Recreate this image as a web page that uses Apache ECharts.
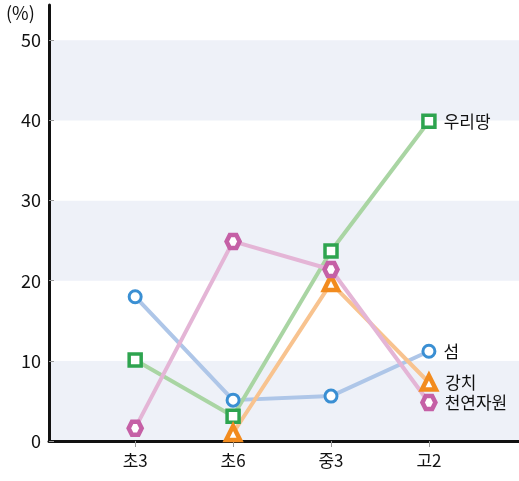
<!DOCTYPE html>
<html>
<head>
<meta charset="utf-8">
<script src="https://cdn.jsdelivr.net/npm/echarts@6/dist/echarts.min.js"></script>
<style>
  html, body { margin: 0; padding: 0; background: #fff; }
  #chart { width: 519px; height: 481px; }
</style>
</head>
<body>
<div id="chart"></div>
<script>
// 학년별 응답 비율 (%)
const grades = ["초3", "초6", "중3", "고2"];
const seom = [18, 5.1, 5.6, 11.2];          // 섬
const urittang = [10.1, 3.1, 23.7, 39.9];   // 우리땅
const gangchi = [null, 1.0, 19.7, 7.3];     // 강치 (초3 없음)
const jawon = [1.6, 24.9, 21.4, 4.8];       // 천연자원
const yTicks = [0, 10, 20, 30, 40, 50];

const font = "'Noto Sans CJK KR', 'Noto Sans', sans-serif";
const hexagon = "path://M-1,0 L-0.5,-0.866 L0.5,-0.866 L1,0 L0.5,0.866 L-0.5,0.866 Z";

function makeSeries (name, values, symbol, size, border, markColor, lineColor) {
  const last = values.length - 1;
  const data = [];
  values.forEach((v, i) => {
    if (v === null) return;
    const item = { value: [i + 1, v] };
    if (i === last) {
      item.label = {
        show: true,
        position: "right",
        distance: 7,
        formatter: name,
        color: "#111",
        fontSize: 17,
        fontFamily: font,
      };
    }
    data.push(item);
  });
  return {
    name,
    type: "line",
    symbol,
    symbolSize: size,
    showAllSymbol: true,
    data,
    lineStyle: { color: lineColor, width: 4 },
    itemStyle: { color: "#fff", borderColor: markColor, borderWidth: border },
    z: 3,
  };
}

const chart = echarts.init(document.getElementById("chart"));
chart.setOption({
  animation: false,
  backgroundColor: "#fff",
  graphic: [
    {
      type: "text",
      left: 6,
      top: 4,
      style: { text: "(%)", fill: "#111", font: "18px " + font },
    },
  ],
  grid: { left: 49, right: 0, top: 5, bottom: 40 },
  xAxis: {
    type: "value",
    min: 0.12,
    max: 4.92,
    axisLine: { lineStyle: { color: "#111", width: 3 } },
    axisTick: {
      show: true,
      length: 6,
      customValues: [1, 2, 3, 4],
      lineStyle: { color: "#999", width: 1 },
    },
    axisLabel: {
      customValues: [1, 2, 3, 4],
      formatter: (v) => grades[Math.round(v) - 1] || "",
      color: "#111",
      fontSize: 17,
      fontFamily: font,
      margin: 11,
    },
    splitLine: { show: false },
  },
  yAxis: {
    type: "value",
    min: 0,
    max: 54.4,
    interval: 10,
    axisLine: { show: true, lineStyle: { color: "#111", width: 3 } },
    axisTick: {
      show: true,
      inside: true,
      length: 5,
      customValues: yTicks,
      lineStyle: { color: "#999", width: 1 },
    },
    axisLabel: {
      customValues: yTicks,
      color: "#111",
      fontSize: 18,
      fontFamily: font,
      margin: 8,
    },
    splitLine: { show: false },
    splitArea: {
      show: true,
      areaStyle: { color: ["#eef1f8", "#ffffff"] },
    },
  },
  series: [
    makeSeries("섬", seom, "circle", 12, 3, "#3a8fd3", "#aec6e8"),
    makeSeries("우리땅", urittang, "rect", 12, 3.5, "#2ea44f", "#a9d5a3"),
    makeSeries("강치", gangchi, "triangle", 14, 4.5, "#f28b1e", "#f8c38f"),
    makeSeries("천연자원", jawon, hexagon, 13, 4.5, "#c560a6", "#e4b5d6"),
  ],
});
</script>
</body>
</html>
